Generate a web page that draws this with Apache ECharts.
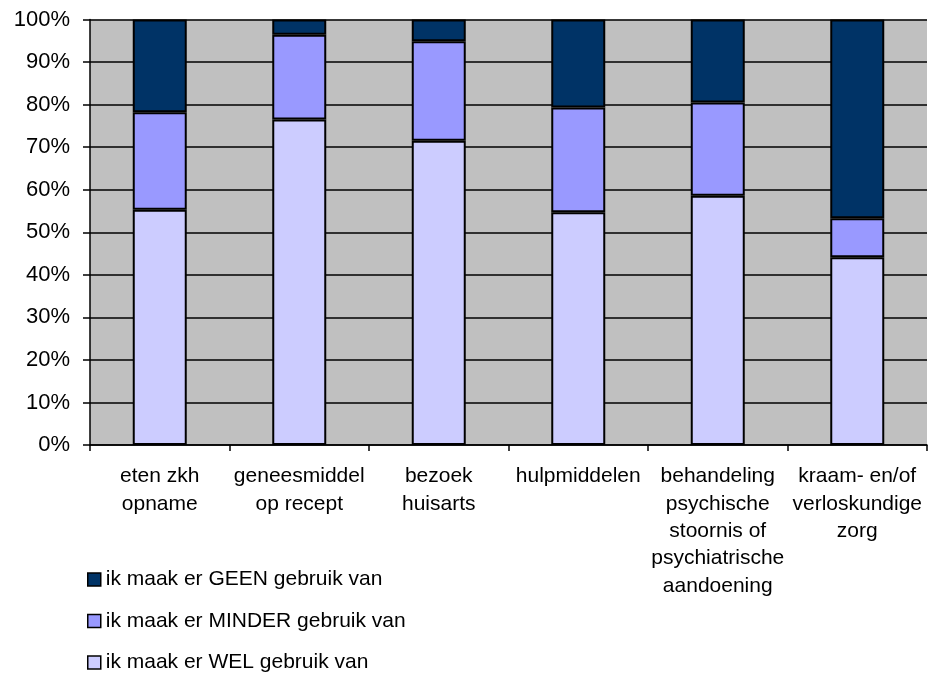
<!DOCTYPE html>
<html>
<head>
<meta charset="utf-8">
<script src="https://cdn.jsdelivr.net/npm/echarts@6/dist/echarts.min.js"></script>
<style>
html,body{margin:0;padding:0;background:#fff;}
#c{width:928px;height:673px;}
</style>
</head>
<body>
<div id="c"></div>
<script>
const categories = [
  "eten zkh\nopname",
  "geneesmiddel\nop recept",
  "bezoek\nhuisarts",
  "hulpmiddelen",
  "behandeling\npsychische\nstoornis of\npsychiatrische\naandoening",
  "kraam- en/of\nverloskundige\nzorg"
];
const welValues    = [55.3, 76.5, 71.5, 54.7, 58.6, 44.1];
const minderValues = [22.9, 19.9, 23.4, 24.6, 21.9, 9.2];
const geenValues   = [21.8, 3.6, 5.1, 20.7, 19.5, 46.7];
const seriesNames = [
  "ik maak er GEEN gebruik van",
  "ik maak er MINDER gebruik van",
  "ik maak er WEL gebruik van"
];
const yTicks = [0,10,20,30,40,50,60,70,80,90,100];

const FONT = "Liberation Sans, Arial, sans-serif";
const chart = echarts.init(document.getElementById('c'));
const barStyle = (c) => ({ color: c, borderColor: '#000', borderWidth: 2 });
chart.setOption({
  animation: false,
  backgroundColor: '#fff',
  grid: { left: 90, right: 1, top: 19.5, bottom: 228, containLabel: false,
          show: true, backgroundColor: '#C0C0C0', borderWidth: 0 },
  legend: {
    orient: 'vertical', left: 82, top: 564, height: 110,
    data: seriesNames,
    itemWidth: 13, itemHeight: 13, itemGap: 20.5,
    icon: 'rect',
    itemStyle: { borderColor: '#000', borderWidth: 1.5 },
    textStyle: { fontFamily: FONT, fontSize: 21, color: '#000', lineHeight: 21 },
    selectedMode: false
  },
  xAxis: {
    type: 'category', data: categories,
    axisLine: { show: true, lineStyle: { color: '#000', width: 1.5 } },
    axisTick: { show: true, length: 6, lineStyle: { color: '#000', width: 1.5 } },
    axisLabel: { fontFamily: FONT, fontSize: 21, color: '#000', lineHeight: 27.3, margin: 18, interval: 0 },
    splitLine: { show: false }
  },
  yAxis: {
    type: 'value', min: 0, max: 100, interval: 10,
    axisLine: { show: true, lineStyle: { color: '#000', width: 1.5 } },
    axisTick: { show: true, length: 7, lineStyle: { color: '#000', width: 1.5 } },
    axisLabel: { fontFamily: FONT, fontSize: 22, color: '#000', margin: 20,
                 formatter: (v) => yTicks.includes(v) ? v + '%' : '' },
    splitLine: { show: true, lineStyle: { color: '#000', width: 1.5 } }
  },
  series: [
    { name: seriesNames[2], type: 'bar', stack: 's', data: welValues, barWidth: 54, itemStyle: barStyle('#CCCCFF') },
    { name: seriesNames[1], type: 'bar', stack: 's', data: minderValues, barWidth: 54, itemStyle: barStyle('#9999FF') },
    { name: seriesNames[0], type: 'bar', stack: 's', data: geenValues, barWidth: 54, itemStyle: barStyle('#003366') }
  ]
});
</script>
</body>
</html>
